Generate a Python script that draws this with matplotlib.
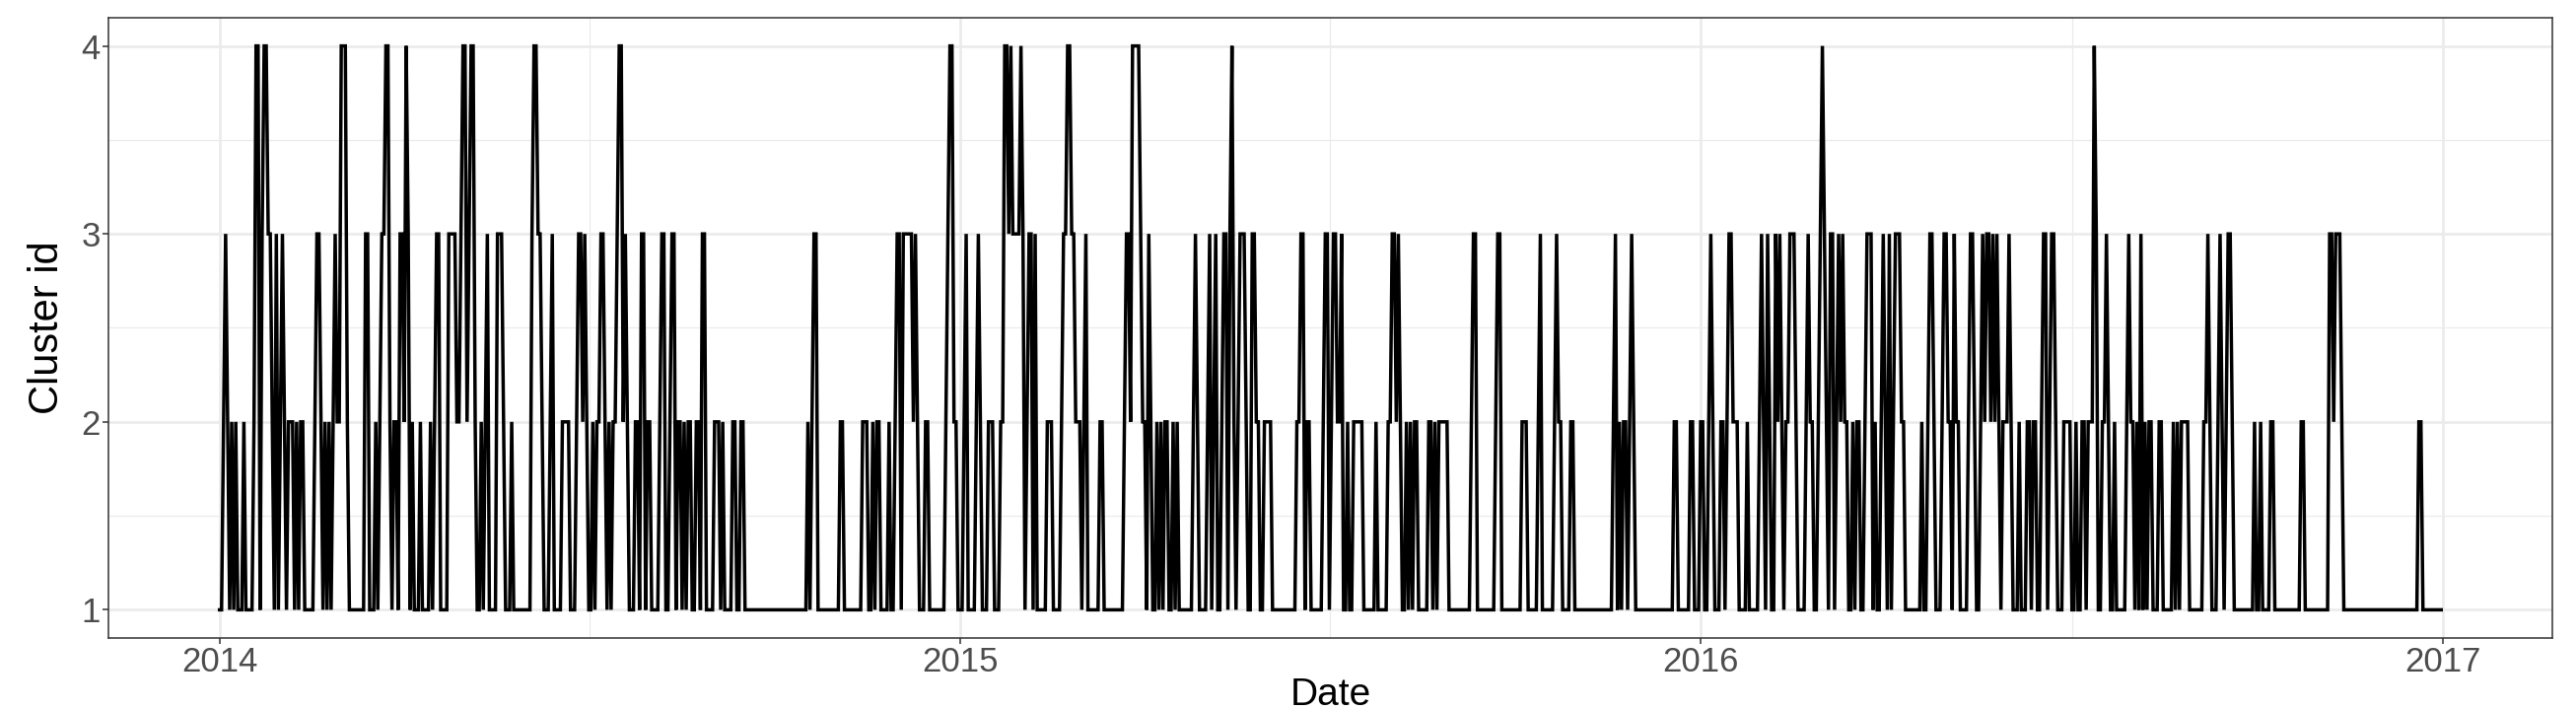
import numpy as np
import pandas as pd
import matplotlib
matplotlib.use("Agg")
import matplotlib.pyplot as plt
import matplotlib.dates as mdates

# daily cluster id, one digit per day, one string per quarter
q1_2014 = ("1123212121" "1121111244" "1344332131" "2321222121" "2211111233"
           "2121212322" "4442111111" "1133111212" "3344212213")
q2_2014 = ("3243121112" "1111212331" "1113333223" "4423442112" "1231111333"
           "2111211111" "1111344332" "1112311112" "22211123323")
q3_2014 = ("2112122332" "1212234423" "2111221331" "2211112331" "1233122121"
           "2211221331" "1112221211" "1122112211" "111111111111")
q4_2014 = ("1111111111" "1111111212" "3311111111" "1112211111" "1111222112"
           "1221111211" "2331333332" "3211122111" "111112344221")
q1_2015 = ("1123111123" "2111222111" "2244343333" "4312331311" "1112221111"
           "2334433222" "1231111112" "2111111111" "1233244443")
q2_2015 = ("2213211212" "1221121211" "1111123211" "1123123112" "3313421233"
           "3211332211" "2222111111" "1111112233" "12211111123")
q3_2015 = ("3123322311" "2112222211" "1111211111" "2233232112" "1212211111"
           "2212122222" "1111111111" "1233111111" "111233111111")
q4_2015 = ("1111222111" "1123111111" "2322111122" "1111111111" "1111111112"
           "3121221232" "1111111111" "1111111112" "211111122111")
q1_2016 = ("2211232111" "2212332221" "1112111112" "3213211323" "2122333211"
           "1123221123" "4321331232" "3221121221" "12333121123")
q2_2016 = ("2131233322" "1111111121" "1233211123" "3221322111" "1233211232"
           "3323232122" "2321112111" "2212211233" "12332111222")
q3_2016 = ("2112112212" "2243112232" "1121111123" "2212131212" "2111221111"
           "1212122221" "1111112232" "1112321233" "211111111112")
q4_2016 = ("1121111221" "1111111111" "1122111111" "1111113323" "3321111111"
           "1111111111" "1111111111" "1111111111" "221111111111")

quarters = [q1_2014, q2_2014, q3_2014, q4_2014,
            q1_2015, q2_2015, q3_2015, q4_2015,
            q1_2016, q2_2016, q3_2016, q4_2016]
cluster = np.array([int(c) for q in quarters for c in q])
dates = pd.date_range("2014-01-01", periods=len(cluster), freq="D")

year_ticks = ["2014-01-01", "2015-01-01", "2016-01-01", "2017-01-01"]
year_labels = ["2014", "2015", "2016", "2017"]
y_ticks = [1, 2, 3, 4]

plt.rcParams["font.family"] = ["Liberation Sans", "DejaVu Sans"]

fig = plt.figure(figsize=(26.13, 7.2), dpi=100)
ax = fig.add_axes([0.0421, 0.1014, 0.9487, 0.8736])

x = mdates.date2num(dates.to_pydatetime())
ax.plot(x, cluster, color="black", lw=2.5, solid_joinstyle="miter", zorder=3)

# ggplot-like expansion of 5 percent
span = x[-1] - x[0]
ax.set_xlim(x[0] - 0.05 * span, x[-1] + 0.05 * span)
ax.set_ylim(1 - 0.15, 4 + 0.15)

major_x = mdates.date2num(pd.to_datetime(year_ticks).to_pydatetime())
ax.set_xticks(major_x)
ax.set_xticklabels(year_labels)
ax.set_xticks((major_x[:-1] + major_x[1:]) / 2, minor=True)
ax.set_yticks(y_ticks)
ax.set_yticks([1.5, 2.5, 3.5], minor=True)

ax.grid(which="major", color="#EBEBEB", lw=1.9, zorder=0)
ax.grid(which="minor", color="#EBEBEB", lw=0.9, zorder=0)
ax.set_axisbelow(True)

for s in ax.spines.values():
    s.set_color("#333333")
    s.set_linewidth(1.1)

ax.tick_params(which="major", length=4, width=1.1, color="#333333",
               labelsize=25, labelcolor="#4D4D4D", pad=2)
ax.tick_params(which="minor", length=0)

ax.set_xlabel("Date", fontsize=28, color="black", labelpad=-1)
ax.set_ylabel("Cluster id", fontsize=30, color="black", labelpad=10)

fig.savefig("out.png", dpi=100)
